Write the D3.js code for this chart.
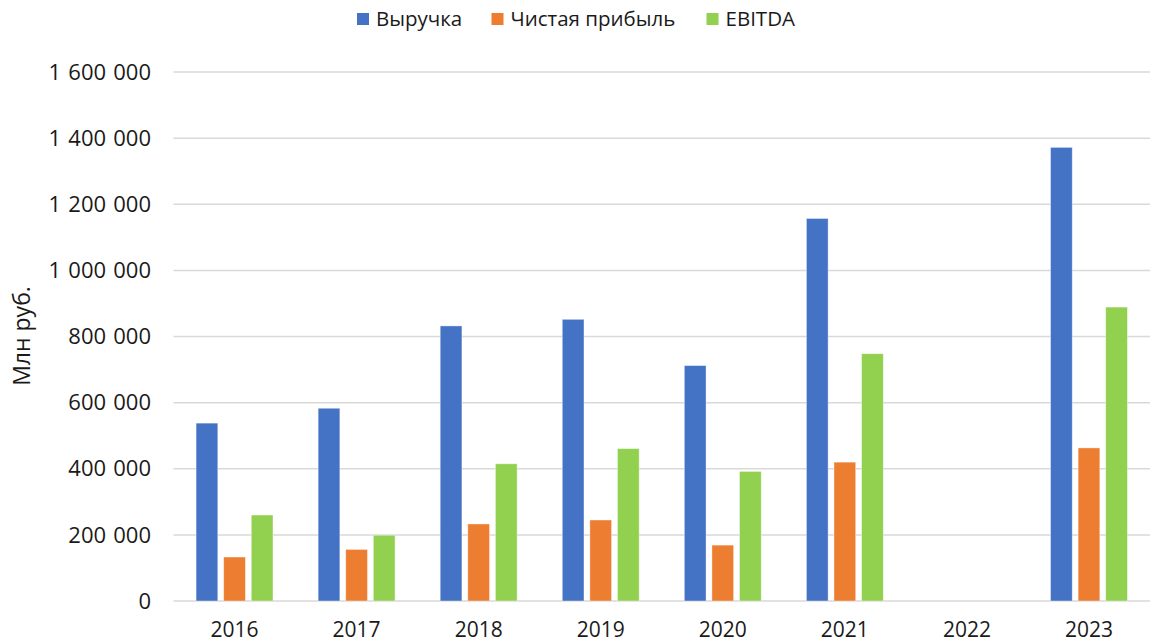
<!DOCTYPE html>
<html><head><meta charset="utf-8">
<script src="https://cdn.jsdelivr.net/npm/d3@7"></script>
<style>
body{margin:0;background:#fff;}
svg{display:block;font-family:"Open Sans","Noto Sans",sans-serif;}
</style></head><body>
<svg id="chart" width="1151" height="644"></svg>
<script>
const categories = ["2016","2017","2018","2019","2020","2021","2022","2023"];
const seriesNames = ["Выручка","Чистая прибыль","EBITDA"];
const revenue   = [538000, 583000, 832000, 852000, 712000, 1157000, null, 1372000];
const netProfit = [133000, 156000, 233000, 245000, 169000, 420000, null, 463000];
const ebitda    = [260000, 199000, 415000, 461000, 392000, 748000, null, 889000];
const yTicks = [0,200000,400000,600000,800000,1000000,1200000,1400000,1600000];
const colors = ["#4472C4","#ED7D31","#92D050"];
const yTitle = "Млн руб.";

(function(){
const series = [revenue, netProfit, ebitda];
const svg = d3.select("#chart");
const pLeft = 173.5, pRight = 1150, pTop = 72, pBottom = 601;

const x = d3.scaleBand().domain(categories).range([pLeft,pRight]).paddingInner(0).paddingOuter(0);
const y = d3.scaleLinear().domain([0,1600000]).range([pBottom,pTop]);

const fmt = v => d3.format(",")(v).replace(/,/g," ");

// gridlines
svg.append("g").selectAll("line").data(yTicks).join("line")
  .attr("x1",pLeft).attr("x2",pRight)
  .attr("y1",d=>y(d)).attr("y2",d=>y(d))
  .attr("stroke","#d9d9d9").attr("stroke-width",1.5);

// y labels
svg.append("g").selectAll("text").data(yTicks).join("text")
  .attr("x",151).attr("y",d=>y(d)).attr("dy","0.35em")
  .attr("text-anchor","end").attr("font-size",22).attr("word-spacing","1.5px").attr("fill","#1a1a1a")
  .text(fmt);

// x labels
svg.append("g").selectAll("text").data(categories).join("text")
  .attr("x",d=>x(d)+x.bandwidth()/2).attr("y",637)
  .attr("text-anchor","middle").attr("font-size",21).attr("fill","#1a1a1a")
  .text(d=>d);

// bars
const bw = x.bandwidth();
const barW = bw*0.178;
const gap = barW*0.27;
const groupW = 3*barW + 2*gap;
series.forEach((vals,si)=>{
  svg.append("g").selectAll("rect")
    .data(categories.map((c,i)=>({c,v:vals[i]})).filter(d=>d.v!=null))
    .join("rect")
    .attr("x",d=>x(d.c)+(bw-groupW)/2+si*(barW+gap))
    .attr("y",d=>y(d.v))
    .attr("width",barW)
    .attr("height",d=>y(0)-y(d.v))
    .attr("fill",colors[si])
    .attr("stroke","#ffffff").attr("stroke-opacity",0.5).attr("stroke-width",0.8);
});

// y title
svg.append("text")
  .attr("transform","translate(30,336) rotate(-90)")
  .attr("text-anchor","middle").attr("font-size",23).attr("fill","#1a1a1a")
  .text(yTitle);

// legend
const legendX = [357, 491.5, 706.5];
const lg = svg.append("g");
seriesNames.forEach((n,i)=>{
  lg.append("rect").attr("x",legendX[i]).attr("y",13).attr("width",12).attr("height",12).attr("fill",colors[i]);
  lg.append("text").attr("x",legendX[i]+19).attr("y",19).attr("dy","0.35em")
    .attr("font-size",20.5).attr("fill","#1a1a1a").text(n);
});
})();
</script>
</body></html>
